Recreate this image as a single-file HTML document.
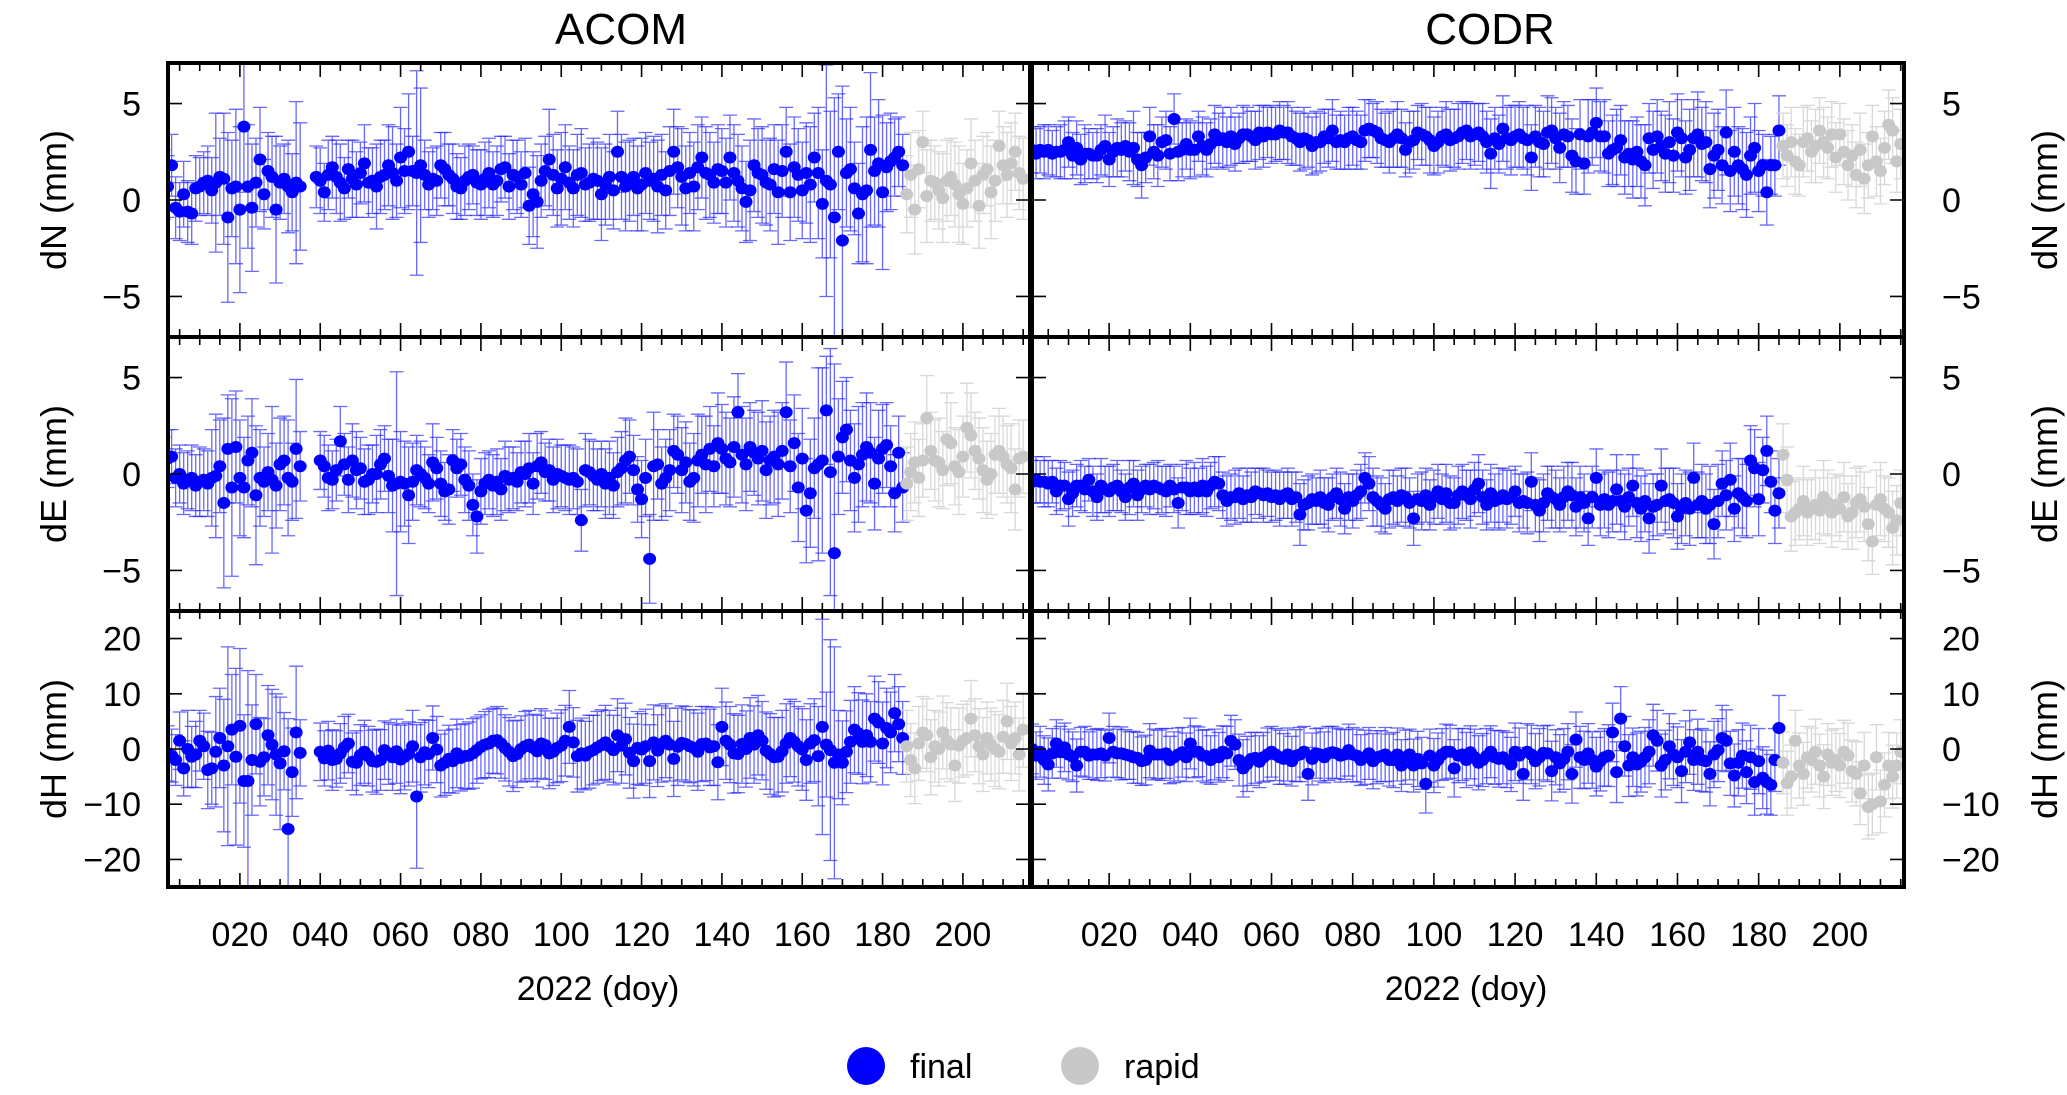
<!DOCTYPE html>
<html><head><meta charset="utf-8"><style>
html,body{margin:0;padding:0;background:#fff;}
svg{display:block;font-family:"Liberation Sans",Arial,sans-serif;}
</style></head><body>
<svg id="chart" width="2067" height="1095" viewBox="0 0 2067 1095" xmlns="http://www.w3.org/2000/svg">
<rect width="2067" height="1095" fill="#fff"/>
<defs>
<clipPath id="c00"><rect x="168" y="63" width="862" height="274"/></clipPath>
<clipPath id="c01"><rect x="168" y="337" width="862" height="274"/></clipPath>
<clipPath id="c02"><rect x="168" y="611" width="862" height="276"/></clipPath>
<clipPath id="c10"><rect x="1032" y="63" width="872" height="274"/></clipPath>
<clipPath id="c11"><rect x="1032" y="337" width="872" height="274"/></clipPath>
<clipPath id="c12"><rect x="1032" y="611" width="872" height="276"/></clipPath>
</defs>
<g id="marks"></g>
<g id="axes"></g>
<text x="621" y="44" font-size="44" text-anchor="middle">ACOM</text>
<text x="1490" y="44" font-size="44" text-anchor="middle">CODR</text>
<text x="598" y="1000" font-size="34" text-anchor="middle">2022 (doy)</text>
<text x="1466" y="1000" font-size="34" text-anchor="middle">2022 (doy)</text>
<g>
<circle cx="866" cy="1066" r="19" fill="#0000ff"/>
<text x="910" y="1078" font-size="34">final</text>
<circle cx="1080" cy="1066" r="19" fill="#c8c8c8"/>
<text x="1124" y="1078" font-size="34">rapid</text>
</g>
</svg>
<script>
const NS="http://www.w3.org/2000/svg";
const rapidStart = 186;
const xTickDays = [20,40,60,80,100,120,140,160,180,200];
const xTickLabels = ["020","040","060","080","100","120","140","160","180","200"];
const neuTicks = [-5,0,5];
const neuTickLabels = ["−5","0","5"];
const hTicks = [-20,-10,0,10,20];
const hTickLabels = ["−20","−10","0","10","20"];
const rowNames = ["dN (mm)","dE (mm)","dH (mm)"];

const acomNFinal = [0.8,0.7,1.8,-0.4,-0.6,0.3,-0.6,-0.7,0.6,0.7,0.9,1.0,0.5,0.9,1.2,1.1,-0.9,0.6,0.7,-0.5,3.8,0.7,-0.4,0.9,2.1,0.3,1.5,1.2,-0.5,0.9,1.1,0.7,0.4,0.9,0.7,null,null,null,
1.2,1.0,0.4,1.3,1.7,1.2,0.9,0.6,1.6,1.1,0.8,1.4,1.9,0.9,1.0,0.7,1.2,1.3,1.8,1.4,1.0,2.2,
1.5,2.5,1.5,1.4,1.8,1.3,0.8,1.1,1.0,1.8,1.6,1.3,1.1,0.7,0.6,1.0,1.2,1.3,0.9,0.8,
1.1,1.4,0.8,1.0,1.6,1.7,0.7,1.3,1.2,0.8,1.4,-0.3,0.3,-0.1,1.0,1.5,2.1,1.3,0.6,1.1,
1.7,0.9,0.6,1.3,1.4,0.8,0.9,1.1,1.0,0.3,0.8,1.2,0.5,2.5,1.2,0.7,1.0,1.2,0.6,0.8,
1.4,1.0,1.1,0.7,1.3,0.5,1.5,2.5,1.7,1.2,0.6,1.4,0.7,1.7,2.2,1.4,1.3,0.9,1.6,1.5,
0.9,2.2,1.4,1.0,0.6,-0.1,0.5,1.8,1.4,1.3,0.9,0.8,1.6,0.4,1.5,2.5,0.4,1.7,1.3,0.5,
1.4,0.8,2.2,1.4,-0.2,1.0,0.8,-0.9,2.5,-2.1,1.4,1.6,0.6,-0.7,0.3,0.5,2.6,1.5,1.9,0.4,1.7,2.0,2.2,2.5,1.8];
const acomNRapid = [0.3,1.3,-0.5,1.6,3.0,0.2,1.0,0.9,0.5,0.1,1.0,1.2,0.8,0.3,-0.2,0.6,1.9,1.0,-0.3,1.3,1.6,0.4,1.0,2.8,1.8,1.3,1.9,2.5,1.4,1.1];
const acomNErr = [1.8,1.6,1.6,1.6,1.5,1.7,1.6,1.6,1.7,1.5,1.6,1.8,1.7,3.6,2.0,3.4,4.4,2.5,4.0,4.3,3.4,3.2,3.3,2.3,2.7,1.8,2.0,2.1,3.8,1.9,1.8,2.4,2.0,4.2,3.3,null,null,null,
1.6,1.7,1.5,1.8,1.6,1.9,2.0,1.6,1.5,2.0,1.7,1.6,2.0,1.8,1.7,2.2,1.9,1.8,2.1,2.4,1.9,2.6,
2.2,3.0,1.8,5.3,4.0,1.8,1.7,1.6,1.8,1.7,1.9,1.6,1.8,1.7,1.6,1.8,1.7,1.5,1.7,1.8,
1.9,1.8,1.7,1.8,1.7,1.6,1.7,1.8,1.9,1.7,1.8,2.0,2.2,2.4,1.9,1.8,2.6,2.1,2.0,2.4,
2.2,1.9,2.0,2.1,2.3,1.9,2.0,2.1,2.0,2.4,2.1,2.2,2.0,2.1,2.2,2.3,2.1,2.0,2.2,2.4,
2.1,2.0,2.2,2.4,2.1,2.0,2.3,2.2,2.1,2.5,2.2,2.1,2.3,2.2,2.1,2.4,2.2,2.1,2.3,2.2,
2.3,2.2,2.5,2.4,2.2,2.1,2.6,2.4,2.3,2.5,2.2,2.4,2.3,2.7,2.4,2.3,2.5,2.6,2.4,2.5,
2.6,3.0,2.3,3.4,2.8,6.0,3.8,6.2,3.0,8.0,2.8,3.2,2.4,2.6,3.5,3.8,4.0,2.8,3.3,4.0,2.3,2.5,2.0,1.8,1.6,
2.0,2.2,2.3,2.0,1.6,2.4,2.1,1.9,2.0,2.3,2.1,2.0,2.2,2.5,2.1,2.0,2.3,2.1,2.2,2.0,1.9,2.4,2.1,1.8,2.0,2.2,2.1,2.0,1.9,2.1];

const acomEFinal = [0.3,0.8,0.9,-0.2,0.0,-0.5,-0.3,-0.2,-0.6,-0.4,-0.3,-0.5,-0.2,-0.1,0.4,-1.5,1.3,-0.7,1.4,-0.2,-0.7,0.7,1.1,-1.1,-0.2,-0.4,0.1,-0.3,-0.6,0.5,0.7,-0.2,-0.4,1.3,0.4,null,null,null,null,
0.7,0.4,-0.2,-0.3,0.2,1.7,0.5,-0.3,0.7,0.2,0.3,-0.4,-0.3,0.0,0.0,0.5,0.8,-0.1,-0.6,-0.5,-0.4,
-0.5,-1.1,-0.4,0.2,0.0,-0.2,-0.5,0.6,0.3,-0.5,-0.9,-0.8,0.7,0.3,0.5,-0.3,-0.6,-1.6,-2.2,-0.9,
-0.5,-0.3,-0.6,-0.4,-0.8,-0.1,-0.3,-0.2,-0.4,0.1,0.0,0.3,-0.5,0.4,0.6,0.1,0.2,-0.3,0.0,-0.1,
-0.2,-0.3,-0.2,-0.4,-2.4,0.2,0.1,-0.1,-0.3,0.0,-0.5,-0.2,-0.6,0.1,0.3,0.7,0.9,0.2,-0.8,-1.3,
-0.2,-4.4,0.4,0.5,-0.5,-0.2,0.2,1.2,1.0,0.2,0.6,-0.4,-0.2,0.7,1.0,0.5,1.3,0.4,1.6,1.3,
0.8,0.6,1.4,3.2,1.0,0.5,1.4,1.1,0.8,1.2,0.2,0.7,0.9,0.5,1.2,3.2,0.4,1.6,-0.7,0.8,
-1.9,-1.0,0.3,0.5,0.7,3.3,0.1,-4.1,0.9,1.9,2.3,0.7,-0.2,0.5,1.0,1.4,1.1,-0.5,0.8,1.3,1.5,0.4,-1.0,1.1,-0.7];
const acomERapid = [-0.5,0.1,0.6,-0.2,0.7,2.9,1.2,0.7,0.6,0.2,1.8,1.6,0.4,0.1,0.9,2.4,2.0,1.2,0.8,0.2,-0.3,0.0,1.0,1.2,0.9,0.5,0.3,-0.8,0.8,0.9];
const acomEErr = [1.6,1.5,1.4,1.5,1.5,1.6,1.5,1.7,1.6,1.8,1.6,1.7,2.5,3.2,2.4,4.4,2.8,4.6,2.9,3.0,2.6,2.3,2.8,3.6,2.5,1.8,2.0,3.8,2.2,2.4,2.3,3.0,2.0,3.6,1.8,null,null,null,null,
1.5,1.6,1.7,1.5,1.6,1.8,1.6,1.7,1.9,2.0,1.6,1.7,1.8,1.5,2.0,1.8,1.7,1.9,2.4,5.8,2.6,
2.2,2.5,2.0,1.8,1.7,1.6,1.5,2.0,1.6,1.7,1.5,1.8,1.6,1.5,1.6,1.7,1.8,1.6,1.9,1.7,
1.6,1.5,1.6,1.7,1.6,1.8,1.7,1.6,1.5,1.6,1.7,1.8,1.6,1.7,1.6,1.5,1.6,1.7,1.8,1.6,
1.7,1.8,1.6,1.7,1.6,1.9,1.7,1.8,1.6,1.7,1.8,1.9,1.7,1.8,1.9,2.2,1.9,1.8,1.7,2.0,
2.0,2.3,2.8,1.8,1.9,2.0,2.1,1.9,2.0,2.2,2.1,2.0,2.3,2.4,2.0,2.5,2.2,2.1,2.6,2.3,
2.4,2.3,2.6,2.0,2.5,2.4,2.3,2.2,2.4,2.6,2.5,2.3,2.4,2.7,2.5,2.6,2.4,2.5,2.8,2.6,
2.7,2.8,2.6,5.0,4.8,2.8,6.4,9.8,3.0,2.9,2.7,2.6,2.8,3.0,2.7,2.8,2.6,2.4,2.5,2.3,2.2,2.1,2.0,1.9,1.8,
1.9,2.0,2.1,2.0,1.9,2.2,2.0,2.1,2.3,2.0,2.4,2.1,2.0,2.2,2.1,2.3,2.2,2.0,2.1,2.2,2.0,2.1,2.0,2.2,2.1,2.0,2.3,2.1,2.0,1.9];

const acomHFinal = [2.0,-0.8,-1.2,-2.0,1.5,-3.5,0.0,-1.4,-1.0,1.5,0.5,-3.8,-3.5,-0.5,2.0,-3.0,0.5,3.5,-1.4,4.2,-5.8,-5.8,-2.0,4.5,-2.3,-1.5,2.5,0.8,-1.0,-2.6,-0.4,-14.5,-4.2,3.0,-0.7,null,null,null,null,
-0.5,-1.7,-0.3,-2.0,-1.8,-0.8,0.3,1.0,-2.3,-2.5,-1.1,-0.5,-1.3,-2.2,-2.3,-2.0,-0.2,-0.8,-1.5,-0.4,-1.9,
-1.4,-0.9,0.5,-8.6,-1.5,-0.6,-0.9,2.0,-0.1,-3.0,-2.5,-1.8,-2.2,-0.8,-1.6,-1.3,-1.2,-0.8,-0.2,0.4,
0.8,1.0,1.5,1.6,1.0,0.2,-0.5,-1.3,-0.9,0.0,0.5,0.8,0.2,-0.4,1.0,0.7,-0.8,-0.5,0.2,0.6,
1.5,4.0,1.2,-1.3,-0.8,-1.2,-0.5,-0.2,0.3,0.7,1.2,0.5,-0.2,2.5,0.6,1.8,-0.7,-2.2,0.2,-0.1,
0.5,-2.2,1.2,-0.3,0.9,1.5,0.8,-1.8,0.4,1.1,0.9,0.5,0.2,-0.5,0.9,1.0,0.3,0.5,-2.4,4.0,
1.5,0.8,-0.8,-0.9,0.9,0.0,2.0,0.8,2.5,1.5,-0.3,-0.9,-1.5,-1.4,-0.4,1.0,2.0,1.3,0.5,-0.1,
-2.0,1.0,1.6,-1.3,4.0,0.8,-0.2,-2.5,-1.0,-2.5,-0.5,1.3,3.5,2.8,1.3,2.5,1.3,5.5,4.8,1.0,3.8,3.0,6.5,4.5,2.0];
const acomHRapid = [0.5,-2.0,-3.5,1.0,3.0,2.5,-1.5,0.5,0.0,3.0,1.5,0.8,-3.0,0.6,1.5,2.0,5.5,2.5,0.5,-1.0,2.0,0.8,0.0,-0.5,2.2,5.0,1.0,2.0,-1.0,3.5];
const acomHErr = [5,5,4.8,4.6,5.2,5,7,5.5,6,5.5,6,7,6.5,10,9,12,18,10,16,14,12,20,10,9,8,7,9,10,11,12,7,20,8,12,6,null,null,null,null,
5.2,5.0,5.3,5.5,5.1,5.4,5.6,5.3,5.2,5.8,5.5,5.7,5.4,5.6,5.9,5.5,5.3,5.6,6.0,5.8,6.2,
6.0,5.8,6.5,13.0,6.3,5.9,6.1,5.8,6.0,5.7,5.9,6.1,5.8,6.2,6.0,5.9,6.1,6.3,6.0,5.8,
6.0,6.2,5.9,6.1,6.3,6.0,6.2,6.4,6.1,6.0,6.3,6.2,6.1,6.5,6.3,6.2,6.4,6.1,6.3,6.5,
6.4,6.6,6.3,6.5,6.4,6.2,6.6,6.3,6.5,6.4,6.7,6.5,6.3,6.6,6.8,6.5,6.4,6.7,6.6,6.5,
6.7,6.6,6.8,6.5,6.9,6.7,6.6,6.8,7.0,6.7,6.8,6.6,6.9,7.0,6.8,6.7,6.9,7.1,6.8,7.0,
7.0,6.9,7.2,7.0,7.1,6.9,7.3,7.0,7.2,7.1,7.0,7.3,7.2,7.1,7.4,7.2,7.0,7.3,7.2,7.4,
7.3,7.2,7.5,9.0,19.5,9.5,20.0,21.0,8.0,7.6,7.4,7.5,7.8,7.4,7.6,7.5,7.3,7.7,7.4,7.5,7.2,7.3,7.0,6.8,6.6,
6.5,6.6,6.4,6.7,6.5,6.6,6.8,6.5,6.7,6.6,6.9,6.7,6.5,6.8,6.6,6.7,6.9,6.6,6.8,6.7,6.5,6.6,6.8,6.7,6.6,6.9,6.7,6.5,6.6,6.8];

const codrNFinal = [2.6,2.4,2.6,2.5,2.6,2.4,2.5,2.5,2.6,3.0,2.3,2.7,2.1,2.4,2.4,2.3,2.3,2.6,2.8,2.1,
2.5,2.7,2.6,2.8,2.5,2.7,2.1,1.8,2.2,3.3,2.5,2.3,3.0,3.1,2.4,4.2,2.5,2.6,2.9,2.6,
2.6,3.3,2.8,2.6,2.9,3.4,3.1,3.2,3.0,3.3,2.9,3.2,3.4,3.4,3.3,3.1,3.5,3.3,3.5,3.4,
3.4,3.6,3.5,3.5,3.3,3.2,3.0,3.2,3.1,2.8,3.0,3.0,3.3,3.2,3.6,3.0,3.1,3.0,3.2,3.3,
3.1,3.0,3.6,3.7,3.6,3.5,3.2,3.1,3.0,3.2,3.4,3.2,2.6,3.0,3.1,3.5,3.4,3.3,3.1,2.8,
3.0,3.3,3.4,3.1,3.2,3.3,3.5,3.6,3.3,3.4,3.5,3.3,3.0,2.4,3.2,2.9,3.7,3.2,3.1,3.3,
3.4,3.2,3.1,2.2,3.3,3.0,2.9,3.5,3.6,3.2,2.7,3.4,3.3,2.3,2.0,3.4,1.9,3.3,3.5,4.0,
3.3,3.3,2.4,2.6,2.7,3.1,2.2,2.4,2.1,2.5,2.0,1.8,3.2,2.6,3.3,2.8,2.4,3.0,2.3,3.5,
3.2,2.2,2.6,3.2,3.4,2.9,3.0,1.6,2.3,2.6,1.8,3.5,1.5,2.5,1.8,1.6,1.3,2.3,2.7,1.5,1.8,0.4,1.8,1.8,3.6];
const codrNRapid = [2.8,2.3,3.0,2.0,1.8,3.0,3.2,2.5,2.8,3.6,3.0,2.7,3.4,2.2,3.4,2.5,1.8,2.3,1.3,2.6,1.1,1.8,3.3,2.0,1.5,2.7,3.9,3.6,2.0,2.9];
const codrNErr = [1.2,1.3,1.2,1.4,1.3,1.2,1.3,1.4,1.5,1.3,1.2,1.4,1.3,1.5,1.3,1.2,1.4,1.3,1.6,1.4,
1.3,1.5,1.4,1.3,1.5,1.9,1.4,1.7,1.3,1.5,1.4,1.6,1.3,1.5,1.4,1.3,1.5,1.4,1.3,1.5,
1.4,1.3,1.5,1.4,1.3,1.5,1.4,1.6,1.3,1.5,1.4,1.3,1.5,1.4,1.3,1.5,1.4,1.6,1.3,1.5,
1.4,1.5,1.4,1.6,1.5,1.4,1.5,1.6,1.4,1.5,1.6,1.5,1.4,1.5,1.6,1.4,1.5,1.4,1.6,1.5,
1.5,1.4,1.6,1.5,1.4,1.6,1.5,1.4,1.6,1.5,1.7,1.5,1.4,1.6,1.5,1.4,1.6,1.5,1.7,1.5,
1.6,1.5,1.7,1.6,1.5,1.7,1.6,1.5,1.7,1.6,1.5,1.7,1.6,1.8,1.6,1.5,1.7,1.6,1.8,1.6,
1.7,1.6,1.8,1.7,1.6,1.8,1.7,1.9,1.7,1.6,1.8,1.7,1.6,1.9,1.7,1.8,1.6,1.9,1.7,1.8,
1.8,1.9,1.7,1.8,2.0,1.8,1.9,1.7,2.0,1.8,1.9,2.1,1.8,2.0,1.9,1.8,2.0,2.1,1.9,2.0,
2.0,1.9,2.1,2.0,2.2,1.9,2.1,2.0,2.2,2.1,2.0,2.2,2.1,2.3,2.0,2.1,2.2,2.0,2.3,2.1,
1.6,1.7,1.5,1.6,1.8,1.7,1.6,1.8,1.7,1.6,1.8,1.7,1.6,1.9,1.7,1.8,1.6,1.7,1.8,1.6,
1.7,1.8,1.6,1.7,1.9,1.8,1.7,1.6,1.8,1.7,1.9,1.8,1.7,1.6,1.8];

const codrEFinal = [-0.4,-0.3,-0.4,-0.4,-0.5,-0.4,-0.9,-0.6,-0.6,-1.3,-1.0,-0.6,-0.6,-0.8,-0.3,-0.9,-1.2,-0.6,-0.8,-0.9,
-0.7,-0.6,-0.9,-1.2,-0.7,-0.5,-1.1,-0.8,-0.6,-0.8,-0.6,-0.7,-0.8,-0.9,-0.6,-0.8,-1.5,-0.7,-0.7,-0.9,
-0.7,-0.9,-0.6,-0.9,-0.6,-0.4,-0.5,-1.1,-1.4,-1.2,-1.2,-1.0,-1.3,-1.1,-1.2,-0.9,-1.0,-1.1,-1.0,-1.2,
-1.1,-1.3,-1.1,-1.0,-1.3,-1.2,-2.1,-1.6,-1.5,-1.3,-1.4,-1.2,-1.5,-1.6,-1.2,-1.0,-1.3,-1.8,-1.2,-1.4,
-1.1,-0.9,-0.2,-0.5,-1.2,-1.4,-1.6,-1.8,-1.3,-1.2,-1.4,-1.1,-1.2,-1.5,-2.3,-1.3,-1.4,-1.1,-1.6,-1.2,
-0.9,-1.3,-1.0,-1.5,-1.5,-1.1,-0.9,-1.1,-1.3,-0.8,-0.5,-1.2,-1.6,-1.0,-1.4,-1.3,-1.1,-1.3,-1.2,-0.9,
-1.5,-1.4,-1.5,-0.4,-1.6,-1.9,-1.5,-1.0,-1.2,-1.3,-1.6,-1.2,-0.9,-1.1,-1.7,-1.2,-1.5,-2.3,-1.2,-0.2,
-1.6,-1.3,-1.6,-1.4,-0.8,-1.4,-1.7,-1.2,-0.6,-1.5,-1.8,-1.4,-2.3,-1.7,-1.6,-0.6,-1.4,-1.3,-1.5,-2.2,
-1.8,-1.5,-1.8,-0.2,-1.6,-1.4,-1.8,-1.6,-2.6,-1.4,-0.5,-1.1,-0.3,-1.8,-1.0,-1.2,-1.4,0.7,0.3,-1.3,0.2,1.2,-0.4,-1.9,-1.0];
const codrERapid = [1.0,-0.3,-2.2,-2.0,-1.8,-1.4,-2.0,-1.8,-1.6,-1.9,-1.2,-1.5,-2.0,-1.6,-1.8,-1.2,-2.2,-2.0,-1.5,-1.3,-1.7,-2.6,-3.5,-1.6,-1.3,-1.8,-2.0,-2.8,-2.4,-1.5];
const codrEErr = [1.1,1.2,1.1,1.3,1.2,1.1,1.2,1.3,1.2,1.4,1.2,1.1,1.3,1.2,1.1,1.3,1.2,1.4,1.2,1.3,
1.2,1.3,1.1,1.2,1.4,1.2,1.3,1.2,1.1,1.3,1.2,1.4,1.2,1.3,1.1,1.2,1.3,1.2,1.4,1.2,
1.3,1.2,1.4,1.3,1.2,1.3,1.4,1.2,1.3,1.2,1.4,1.3,1.2,1.4,1.3,1.2,1.3,1.4,1.2,1.3,
1.3,1.4,1.2,1.3,1.4,1.3,1.6,1.3,1.4,1.3,1.2,1.4,1.3,1.4,1.2,1.3,1.4,1.3,1.2,1.4,
1.3,1.4,1.3,1.4,1.5,1.3,1.4,1.3,1.5,1.4,1.3,1.4,1.5,1.3,1.4,1.3,1.5,1.4,1.3,1.4,
1.4,1.3,1.5,1.4,1.3,1.5,1.4,1.3,1.5,1.4,1.5,1.4,1.3,1.5,1.4,1.6,1.4,1.5,1.4,1.3,
1.5,1.4,1.6,1.5,1.4,1.6,1.5,1.4,1.6,1.5,1.4,1.6,1.5,1.7,1.5,1.6,1.5,1.4,1.6,1.5,
1.6,1.5,1.7,1.6,1.8,1.6,1.7,1.5,1.6,1.8,1.7,1.6,1.8,1.7,1.6,1.9,1.7,1.6,1.8,1.7,
1.8,1.7,1.9,1.8,1.7,1.9,1.8,2.0,1.8,1.9,1.7,1.8,1.9,1.7,1.8,2.0,1.9,1.8,2.0,1.9,
1.7,1.8,1.6,1.7,1.8,1.6,1.7,1.8,1.7,1.6,1.8,1.7,1.6,1.8,1.7,1.9,1.7,1.8,1.6,1.7,
1.8,1.7,1.9,1.8,1.7,1.8,1.9,1.7,1.8,1.9,1.7,1.8,1.9,1.8,1.7];

const codrHFinal = [0.0,-1.2,-0.5,-2.0,-2.8,-0.8,1.0,-0.6,0.3,-1.0,-1.4,-3.0,-0.5,-0.5,-1.2,-1.0,-1.0,-0.8,-1.2,2.0,
-0.5,-0.8,-0.8,-1.0,-1.2,-1.5,-1.6,-2.2,-2.0,-0.3,-1.0,-1.0,-1.0,-0.8,-2.0,-1.5,-1.0,-0.6,-1.5,1.0,
-0.5,-0.5,-1.2,-1.3,-2.0,-1.0,-1.5,-0.5,-0.8,1.5,0.8,-2.0,-3.5,-2.7,-1.8,-1.6,-2.3,-1.5,-1.0,-0.5,
-1.0,-1.5,-1.8,-1.0,-2.2,-1.2,-1.0,-0.5,-4.5,-1.8,-0.8,-1.0,-1.5,-0.8,-0.6,-0.8,-1.2,-1.0,-0.2,-1.0,
-1.2,-2.0,-1.5,-0.8,-2.2,-1.5,-1.3,-1.0,-2.0,-2.0,-1.0,-3.0,-1.5,-1.0,-3.0,-1.8,-2.6,-6.3,-1.2,-3.0,
-2.0,-1.0,-0.5,-0.5,-3.5,-1.2,-1.0,-2.0,-0.6,-1.5,-2.5,-2.0,-1.3,-0.5,-1.5,-1.8,-1.5,-2.0,-2.8,-0.5,
-1.2,-4.5,-0.5,-1.0,-2.2,-1.5,-0.7,-0.8,-4.0,-1.5,-2.6,-1.8,-0.5,-4.5,1.7,-1.5,-2.0,-0.8,-2.0,-3.2,
-2.2,-1.5,-1.2,3.0,-4.2,5.5,0.5,-3.0,-1.5,-2.8,-2.3,-1.5,-0.5,2.5,1.5,-3.0,-2.0,0.5,-1.0,-1.5,
-4.0,-0.5,1.2,-2.0,-0.5,-2.0,-2.2,-4.5,-1.0,-0.2,2.0,1.5,-2.6,-4.8,-2.5,-1.2,-4.2,-1.5,-6.0,-2.2,-5.2,-6.0,-6.5,-2.0,3.8];
const codrHRapid = [-2.5,-6.2,-5.0,1.5,-3.0,-4.5,-1.5,-2.0,-0.5,-3.0,-5.0,-1.0,-2.5,-2.0,-3.0,-0.5,-1.2,-4.0,-4.5,-8.0,-3.0,-10.5,-10.0,-1.5,-9.5,-6.5,-3.0,-5.0,-3.0,-0.5];
const codrHErr = [4.5,4.3,4.6,4.4,4.8,4.5,4.3,4.7,4.4,4.6,4.5,4.8,4.4,4.6,4.3,4.5,4.7,4.4,4.6,4.5,
4.6,4.4,4.8,4.5,4.3,4.7,4.6,4.4,4.5,4.9,4.6,4.4,4.7,4.5,4.3,4.6,4.8,4.5,4.4,4.6,
4.7,4.5,4.6,4.8,4.4,4.6,4.5,4.7,4.9,4.6,4.5,4.7,5.2,5.0,4.8,4.6,4.7,4.5,4.8,4.6,
4.7,4.9,4.6,4.8,4.5,4.7,4.9,4.6,4.8,4.7,4.5,4.8,4.6,4.9,4.7,4.6,4.8,4.5,4.7,4.9,
4.8,4.6,4.9,4.7,5.0,4.8,4.6,4.9,4.7,5.0,4.8,4.7,4.9,4.6,4.8,5.0,4.7,5.3,4.8,4.9,
4.9,4.7,5.0,4.8,5.2,4.9,4.7,5.0,4.8,5.1,4.9,4.8,5.0,4.7,4.9,5.1,4.8,5.0,4.9,5.2,
5.0,4.8,5.1,5.3,5.0,5.2,4.9,5.1,5.4,5.0,5.2,5.5,5.1,5.3,5.0,5.6,5.2,5.4,5.1,5.3,
5.4,5.2,5.6,5.3,5.5,5.8,5.4,5.6,5.3,5.7,5.5,5.4,5.8,5.6,5.5,5.7,5.4,5.9,5.6,5.5,
5.7,5.6,5.8,5.5,5.9,5.7,5.6,5.8,6.0,5.7,5.9,5.6,5.8,5.7,6.0,5.9,5.7,5.8,6.0,5.9,
5.6,5.8,5.5,5.7,5.9,5.6,5.8,5.7,5.5,5.9,5.7,5.6,5.8,5.9,5.7,5.8,5.6,5.9,5.7,5.8,
5.7,5.9,5.6,5.8,5.7,6.0,5.8,5.6,5.9,5.7,5.8,6.0,5.7,5.9,5.8];

// layout (geometry, not data)
const cols = [{x0:168,x1:1030,d0:2.1,d1:216.7,name:"acom"},{x0:1032,x1:1904,d0:1.0,d1:215.8,name:"codr"}];
const rows = [{y0:63,y1:337,v0:-7.1,v1:7.1,comp:"dn"},{y0:337,y1:611,v0:-7.1,v1:7.1,comp:"de"},{y0:611,y1:887,v0:-25,v1:25,comp:"dh"}];
const panelData = [
 [[acomNFinal,acomNRapid,acomNErr],[acomEFinal,acomERapid,acomEErr],[acomHFinal,acomHRapid,acomHErr]],
 [[codrNFinal,codrNRapid,codrNErr],[codrEFinal,codrERapid,codrEErr],[codrHFinal,codrHRapid,codrHErr]]
];

function xScale(c,d){return c.x0+(d-c.d0)/(c.d1-c.d0)*(c.x1-c.x0);}
function yScale(r,v){return r.y1-(v-r.v0)/(r.v1-r.v0)*(r.y1-r.y0);}
function mk(tag,attrs,parent){const e=document.createElementNS(NS,tag);for(const k in attrs)e.setAttribute(k,attrs[k]);parent.appendChild(e);return e;}

const marks=document.getElementById('marks');
const axes=document.getElementById('axes');

cols.forEach((c,ci)=>{
 rows.forEach((r,ri)=>{
  const [fin,rap,err]=panelData[ci][ri];
  const g=mk('g',{'clip-path':`url(#c${ci}${ri})`},marks);
  
  
  const eg=mk('g',{},g); const dg=mk('g',{},g);
  const all=fin.concat(rap);
  all.forEach((v,i)=>{
   if(v===null||v===undefined) return;
   const day=i+1;
   const isR=day>=rapidStart;
   const e=err[i]||0;
   const x=xScale(c,day);
   const yt=yScale(r,v+e), yb=yScale(r,v-e), y=yScale(r,v);
   const col=isR?'#d8d8d8':'rgba(40,40,255,0.7)';
   const eb=mk('path',{d:`M${x},${yt}V${yb}M${x-7},${yt}H${x+7}M${x-7},${yb}H${x+7}`,stroke:col,'stroke-width':1.3,fill:'none'},eg);
   
   
   const pt=mk('ellipse',{cx:x,cy:y,rx:6.5,ry:6,fill:isR?'#c8c8c8':'#0000ff'},dg);
   
   
  });
  let tk='';
  for(let d=5; d<=215; d+=5){
   if(d<c.d0||d>c.d1) continue;
   const x=xScale(c,d); const len=(d%20===0)?14:8;
   tk+=`M${x},${r.y0}v${len}M${x},${r.y1}v${-len}`;
  }
  const yt=r.comp==='dh'?hTicks:neuTicks;
  yt.forEach(v=>{const y=yScale(r,v); tk+=`M${c.x0},${y}h14M${c.x1},${y}h-14`;});
  const tp=mk('path',{d:tk,stroke:'#000','stroke-width':1.6,fill:'none'},axes);
  
  
  const fr=mk('rect',{x:c.x0,y:r.y0,width:c.x1-c.x0,height:r.y1-r.y0,fill:'none',stroke:'#000','stroke-width':4},axes);
  
  
 });
 xTickDays.forEach((d,i)=>{
  const t=mk('text',{x:xScale(c,d),y:946,'font-size':34,'text-anchor':'middle'},axes);
  t.textContent=xTickLabels[i];
  
  
 });
});

rows.forEach((r,ri)=>{
 const vals=r.comp==='dh'?hTicks:neuTicks;
 const labs=r.comp==='dh'?hTickLabels:neuTickLabels;
 vals.forEach((v,i)=>{
  const y=yScale(r,v)+12;
  const tl=mk('text',{x:141,y:y,'font-size':34,'text-anchor':'end'},axes);
  tl.textContent=labs[i];
  
  
  const tr=mk('text',{x:1942,y:y,'font-size':34,'text-anchor':'start'},axes);
  tr.textContent=labs[i];
  
  
 });
 const cy=(r.y0+r.y1)/2;
 const a=mk('text',{x:0,y:0,'font-size':36,'text-anchor':'middle',transform:`translate(66,${cy}) rotate(-90)`},axes);
 a.textContent=rowNames[ri];
 
 
 const b=mk('text',{x:0,y:0,'font-size':36,'text-anchor':'middle',transform:`translate(2057,${cy}) rotate(-90)`},axes);
 b.textContent=rowNames[ri];
 
 
});
</script>
</body></html>
